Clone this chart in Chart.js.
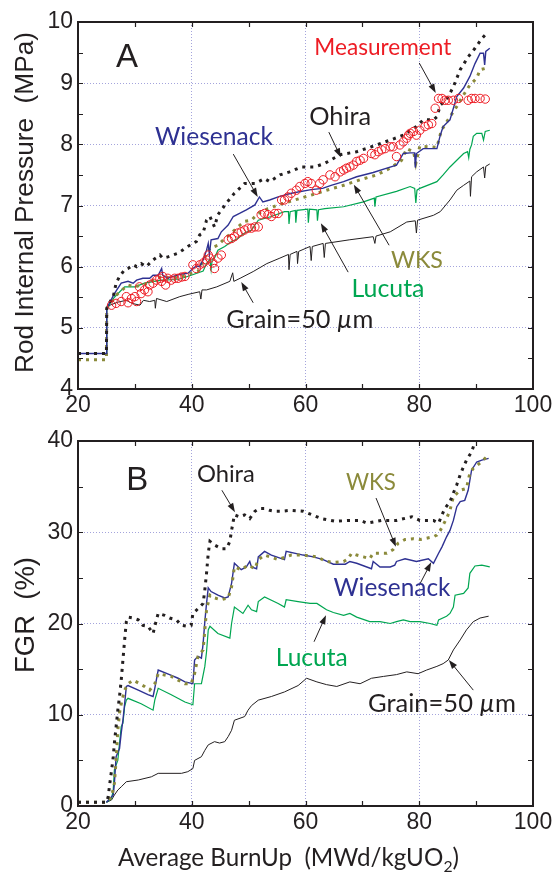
<!DOCTYPE html>
<html>
<head>
<meta charset="utf-8">
<script src="https://cdn.jsdelivr.net/npm/chart.js@4.4.1/dist/chart.umd.min.js"></script>
<style>
  html, body { margin: 0; padding: 0; background: #fff; }
  #wrap { position: relative; width: 556px; height: 875px; overflow: hidden; }
  #chartA { position: absolute; left: 0; top: 0; width: 556px; height: 420px; }
  #chartB { position: absolute; left: 0; top: 420px; width: 556px; height: 455px; }
</style>
</head>
<body>
<div id="wrap">
  <canvas id="chartA" width="556" height="420"></canvas>
  <canvas id="chartB" width="556" height="455"></canvas>
</div>
<script>
// ---- data read off the figure : [burnup, value] ----
// panel A : rod internal pressure (MPa)
const aMeasurement = [[25.9,5.37],[26.7,5.40],[27.6,5.43],[28.5,5.51],[28.8,5.41],[29.4,5.48],[30.0,5.51],[30.3,5.43],[30.8,5.67],[31.1,5.56],[31.7,5.62],[32.3,5.59],[32.6,5.70],[33.2,5.73],[33.8,5.78],[34.4,5.81],[34.7,5.76],[34.9,5.84],[35.4,5.70],[35.8,5.81],[36.4,5.78],[37.0,5.81],[37.6,5.81],[38.2,5.83],[38.8,5.84],[40.2,6.03],[40.8,5.97],[41.4,6.03],[42.0,6.06],[42.6,6.11],[42.9,6.19],[43.2,6.14],[43.7,6.06],[44.0,5.97],[44.6,6.14],[45.2,6.19],[46.4,6.44],[47.0,6.46],[47.5,6.49],[48.1,6.55],[48.7,6.57],[49.3,6.60],[49.9,6.63],[50.5,6.63],[51.1,6.65],[51.7,6.65],[52.2,6.85],[52.8,6.87],[53.4,6.85],[54.0,6.82],[54.6,6.87],[55.2,6.87],[55.8,7.09],[56.3,7.09],[56.9,7.14],[57.5,7.20],[58.4,7.25],[59.0,7.31],[59.9,7.36],[60.4,7.39],[61.0,7.36],[61.9,7.25],[62.5,7.36],[63.1,7.42],[64.3,7.50],[65.2,7.47],[66.1,7.55],[66.7,7.58],[67.2,7.61],[67.8,7.63],[68.4,7.66],[69.0,7.72],[69.6,7.74],[70.2,7.77],[71.6,7.85],[72.2,7.83],[72.8,7.88],[73.4,7.91],[74.0,7.93],[74.9,7.96],[75.4,7.96],[76.0,7.80],[76.6,7.99],[77.2,8.04],[77.8,8.10],[78.1,8.15],[78.4,8.18],[79.0,8.21],[79.5,8.15],[80.1,8.23],[81.0,8.29],[81.6,8.32],[82.2,8.34],[82.8,8.59],[83.4,8.75],[84.0,8.75],[84.5,8.72],[85.1,8.72],[86.0,8.72],[86.9,8.75],[88.6,8.72],[89.2,8.75],[89.8,8.75],[90.7,8.75],[91.6,8.74]];
const aWiesenack = [[20,4.58],[25.0,4.58],[25.05,5.32],[26.4,5.56],[27.6,5.73],[28.8,5.76],[29.7,5.73],[30.3,5.78],[31.4,5.81],[32.6,5.81],[33.2,5.86],[34.1,5.86],[34.7,5.97],[34.9,5.86],[35.8,5.81],[37.0,5.85],[38.2,5.88],[39.3,5.89],[40.2,5.97],[40.8,6.01],[41.4,6.0],[42.0,6.11],[42.6,6.27],[42.9,6.38],[43.1,6.2],[43.4,6.44],[44.6,6.46],[45.2,6.57],[46.4,6.68],[47.3,6.82],[48.4,6.87],[49.6,6.93],[51.1,7.01],[51.9,7.14],[52.5,7.06],[53.7,7.09],[55.2,7.14],[57.5,7.20],[61.0,7.26],[63.0,7.28],[64.5,7.33],[66.7,7.39],[69.0,7.47],[71.9,7.54],[74.3,7.61],[76.0,7.66],[77.2,7.85],[78.4,7.86],[79.2,7.86],[79.3,7.62],[79.5,7.85],[80.7,7.93],[83.1,7.93],[83.7,8.15],[84.2,8.29],[85.4,8.40],[86.6,8.78],[87.8,8.92],[88.9,9.11],[89.8,9.32],[90.7,9.49],[91.3,9.49],[91.5,9.30],[91.7,9.52],[92.4,9.57]];
const aOhira = [[20,4.58],[25.0,4.58],[25.05,5.32],[25.6,5.42],[26.2,5.51],[26.7,5.73],[27.3,5.84],[28.2,5.95],[28.8,5.97],[29.7,6.03],[30.3,6.0],[31.1,6.05],[32.0,6.0],[33.2,6.11],[34.4,6.19],[34.9,6.14],[35.8,6.16],[37.6,6.22],[39.3,6.33],[40.8,6.41],[41.4,6.52],[42.0,6.55],[42.6,6.76],[43.2,6.82],[44.0,6.65],[44.6,6.85],[46.1,7.04],[47.5,7.20],[49.3,7.36],[51.1,7.36],[52.8,7.44],[53.7,7.39],[55.5,7.50],[57.2,7.55],[59.3,7.63],[61.6,7.63],[63.4,7.69],[66.1,7.83],[69.0,7.88],[71.6,7.96],[74.9,8.07],[77.2,8.15],[79.5,8.29],[80.7,8.40],[82.5,8.40],[83.1,8.45],[83.7,8.64],[84.8,8.73],[86.0,8.94],[87.2,9.22],[88.6,9.43],[89.8,9.57],[91.0,9.73],[91.6,9.79],[92.0,9.82]];
const aWKS = [[20,4.48],[25.0,4.48],[25.05,5.32],[27.0,5.56],[28.8,5.70],[30.0,5.67],[32.3,5.73],[34.7,5.84],[36.4,5.81],[38.2,5.84],[39.9,5.89],[41.1,5.92],[42.3,6.16],[43.2,6.30],[44.6,6.35],[45.8,6.46],[47.0,6.55],[48.1,6.65],[49.3,6.74],[50.5,6.76],[51.7,6.87],[53.4,6.95],[55.2,7.01],[58.1,7.09],[61.0,7.17],[63.7,7.25],[66.7,7.33],[69.6,7.42],[72.5,7.50],[74.9,7.61],[76.9,7.74],[77.8,7.93],[79.0,7.88],[79.4,7.69],[80.1,7.97],[83.1,7.95],[83.9,8.23],[85.4,8.45],[86.6,8.62],[87.8,8.81],[88.9,8.97],[90.1,9.08],[90.7,9.22],[91.6,9.24],[92.0,9.28]];
const aLucuta = [[20,4.58],[25.0,4.58],[25.05,5.32],[26.4,5.50],[28.2,5.67],[30.0,5.67],[31.7,5.73],[34.7,5.78],[37.6,5.79],[39.9,5.86],[42.0,5.93],[42.6,6.05],[43.2,6.12],[43.4,5.95],[43.6,6.12],[44.0,6.14],[44.6,6.27],[45.8,6.33],[47.0,6.41],[48.1,6.46],[49.3,6.55],[50.5,6.60],[51.7,6.76],[54.0,6.82],[56.3,6.90],[57.0,6.90],[57.1,6.70],[57.3,6.90],[58.2,6.92],[58.3,6.72],[58.5,6.92],[60.4,6.94],[60.5,6.72],[60.7,6.94],[62.0,6.93],[62.1,6.75],[62.3,6.93],[63.4,6.95],[66.7,6.98],[70.2,7.06],[72.1,7.12],[72.2,6.98],[72.4,7.14],[76.0,7.23],[78.4,7.31],[79.2,7.28],[79.4,7.04],[79.6,7.25],[80.1,7.28],[83.1,7.39],[84.2,7.50],[85.4,7.63],[86.6,7.74],[87.8,7.85],[88.5,7.88],[88.7,7.78],[88.9,7.92],[89.2,7.99],[89.5,8.13],[90.1,8.18],[91.0,8.18],[91.3,8.07],[91.6,8.21],[92.4,8.23]];
const aGrain = [[20,4.58],[25.0,4.58],[25.05,5.32],[25.6,5.37],[27.0,5.42],[28.5,5.45],[29.5,5.40],[30.9,5.37],[31.5,5.45],[32.6,5.43],[33.5,5.45],[33.6,5.32],[33.8,5.48],[35.6,5.43],[37.9,5.51],[39.5,5.55],[41.4,5.59],[41.6,5.47],[41.8,5.62],[42.6,5.62],[44.4,5.67],[46.7,5.76],[47.2,5.90],[47.4,5.76],[48.5,5.81],[50.8,5.92],[53.2,6.05],[55.5,6.14],[57.0,6.20],[57.1,5.95],[57.3,6.20],[58.5,6.25],[58.6,6.05],[58.8,6.25],[60.8,6.33],[61.0,6.10],[61.2,6.33],[63.1,6.38],[63.3,6.15],[63.5,6.38],[67.8,6.44],[71.9,6.49],[72.2,6.38],[72.4,6.50],[74.9,6.57],[77.8,6.73],[79.3,6.75],[79.5,6.55],[79.7,6.76],[82.5,6.84],[83.7,6.90],[85.4,7.09],[86.6,7.25],[87.8,7.33],[88.9,7.40],[89.0,7.15],[89.2,7.47],[90.1,7.55],[91.3,7.63],[91.5,7.45],[91.7,7.64],[92.4,7.68]];

// panel B : fission gas release (%)
const bOhira = [[20,0.4],[25.0,0.4],[25.3,1.0],[25.6,2.5],[25.9,3.9],[26.2,5.4],[26.4,6.9],[26.7,8.7],[27.0,10.5],[27.3,12.0],[27.6,13.8],[27.9,16.0],[28.2,18.2],[28.5,20.2],[28.8,20.7],[29.7,20.6],[30.6,20.4],[31.4,19.8],[32.3,19.7],[33.2,18.9],[33.5,19.7],[34.1,21.1],[35.2,20.9],[36.1,20.6],[37.3,20.4],[38.2,19.8],[39.1,19.7],[39.9,19.8],[40.2,21.1],[41.4,21.8],[42.0,22.2],[42.3,23.7],[42.6,25.5],[42.9,27.7],[43.2,29.0],[44.0,28.6],[45.2,28.2],[46.1,28.2],[46.7,29.0],[47.0,30.2],[47.5,31.9],[48.4,31.7],[49.3,31.9],[50.2,31.5],[51.1,32.3],[51.9,32.6],[52.8,32.6],[53.7,32.4],[54.6,32.3],[55.8,32.3],[57.3,32.4],[59.6,32.3],[62.8,31.5],[65.2,31.2],[67.8,31.3],[69.6,31.3],[70.8,31.0],[73.4,31.3],[76.0,31.3],[78.7,31.7],[80.1,31.3],[82.5,31.3],[83.4,31.0],[84.0,31.9],[84.5,32.6],[85.4,33.35],[86.0,34.3],[86.6,35.2],[87.2,36.3],[87.8,37.2],[88.3,37.9],[89.2,38.8],[89.8,39.9],[90.3,40.5]];
const bWiesenack = [[25.0,0.4],[26.2,1.2],[26.4,2.5],[26.7,5.4],[27.3,6.3],[27.6,8.0],[27.9,9.4],[28.2,11.2],[28.5,13.1],[28.8,13.2],[30.6,12.7],[32.3,12.2],[33.2,12.0],[33.5,12.9],[34.1,14.9],[36.1,14.4],[37.6,14.0],[38.8,13.6],[40.2,13.4],[40.5,16.0],[41.1,16.4],[41.7,16.2],[42.0,17.8],[42.3,20.2],[42.6,22.2],[42.9,23.9],[43.4,23.5],[44.6,23.1],[45.8,22.8],[46.4,22.9],[47.0,24.4],[47.5,26.6],[48.7,25.9],[49.6,26.2],[50.2,26.8],[50.5,26.2],[51.4,26.0],[51.7,27.3],[52.8,27.9],[54.0,27.5],[56.3,27.0],[56.6,27.9],[59.6,27.5],[61.4,27.3],[63.1,27.0],[64.9,26.5],[67.0,26.5],[67.8,26.8],[69.0,26.6],[71.6,26.0],[71.9,26.8],[73.1,26.2],[74.9,26.2],[75.7,26.4],[76.0,26.8],[77.5,27.1],[79.5,26.8],[81.6,27.1],[82.5,26.6],[83.4,27.7],[84.0,28.4],[84.8,29.5],[85.4,30.2],[86.0,31.3],[86.6,32.8],[87.2,33.35],[88.0,33.5],[88.6,34.6],[89.2,36.8],[90.1,37.7],[91.0,37.9],[92.2,38.1]];
const bWKS = [[20,0.4],[25.0,0.4],[25.9,1.0],[26.4,2.5],[26.7,5.0],[27.0,8.3],[27.3,10.2],[27.6,11.2],[28.2,12.7],[28.8,13.4],[29.7,13.8],[31.7,13.1],[32.6,12.7],[33.5,13.4],[34.1,14.5],[36.4,14.2],[38.8,13.4],[39.9,13.4],[40.5,14.5],[41.1,16.4],[42.0,17.1],[42.3,19.3],[42.6,21.5],[43.2,23.1],[44.0,22.8],[45.2,22.6],[46.4,22.8],[47.0,24.0],[47.5,26.2],[48.7,25.9],[49.9,26.4],[51.1,26.0],[51.7,27.0],[52.8,27.5],[55.2,27.0],[57.5,27.5],[59.6,27.5],[62.0,27.3],[63.7,26.8],[64.9,26.7],[66.7,26.8],[67.5,27.1],[68.1,27.7],[69.0,27.5],[70.2,27.3],[71.3,27.1],[71.9,27.7],[74.3,27.7],[75.4,28.1],[76.3,28.8],[77.5,29.2],[79.0,29.3],[80.1,29.2],[82.5,29.5],[83.1,29.7],[83.7,30.2],[84.2,30.8],[84.8,31.5],[85.4,32.4],[86.0,33.9],[87.2,34.6],[88.3,34.8],[88.9,36.5],[89.5,37.0],[90.7,37.6],[91.9,38.3]];
const bLucuta = [[25.0,0.4],[25.9,0.8],[26.2,1.8],[26.4,4.0],[27.0,5.0],[27.3,6.9],[27.6,8.7],[27.9,9.1],[28.2,10.9],[28.5,11.6],[28.8,11.8],[31.1,11.2],[33.2,10.5],[33.5,11.6],[34.1,12.9],[36.4,12.2],[38.8,11.4],[40.2,11.1],[40.5,13.4],[41.7,13.4],[42.3,15.3],[42.6,16.9],[42.9,19.3],[43.2,19.7],[44.6,18.9],[46.7,18.4],[47.0,20.0],[47.5,21.8],[49.0,21.1],[49.9,22.0],[50.5,21.5],[51.4,21.3],[51.7,22.4],[52.8,22.9],[55.2,22.2],[56.3,21.8],[56.6,22.6],[58.7,22.4],[60.8,22.2],[62.0,22.2],[63.7,21.5],[64.9,21.2],[66.7,20.9],[67.8,21.1],[69.0,20.7],[71.3,20.2],[73.1,20.2],[74.9,20.0],[76.0,20.2],[77.2,20.4],[78.4,20.2],[80.1,20.2],[81.9,20.0],[83.1,19.8],[83.4,20.4],[84.8,20.8],[85.4,21.1],[86.0,21.8],[86.3,23.1],[87.8,23.3],[88.6,23.9],[88.9,25.5],[89.8,26.3],[91.0,26.4],[92.4,26.2]];
const bGrain = [[25.0,0.4],[25.9,0.66],[26.4,1.2],[27.0,1.75],[27.6,2.1],[28.5,2.66],[30.6,2.85],[32.9,3.2],[34.1,3.58],[38.2,3.58],[39.3,3.76],[40.2,4.1],[40.5,5.0],[41.7,5.4],[42.3,6.1],[42.9,6.7],[44.0,7.05],[44.9,6.9],[45.8,7.05],[46.4,7.6],[47.0,8.3],[47.5,9.4],[49.3,9.8],[49.9,10.5],[50.5,11.0],[51.7,11.6],[54.0,12.0],[56.3,12.5],[58.7,13.2],[60.2,14.0],[62.0,13.6],[63.7,13.3],[65.5,13.1],[67.8,13.6],[69.6,13.4],[71.6,14.0],[73.7,14.2],[76.0,14.4],[77.8,14.7],[79.8,14.5],[81.3,14.9],[83.1,15.3],[84.2,15.6],[85.1,16.0],[86.0,17.1],[87.2,18.2],[88.3,19.3],[89.5,20.2],[90.7,20.6],[92.2,20.8]];

// tick marks on the box (labels come from the scales)
const xMinorTicks = [30, 40, 50, 60, 70, 80, 90];
const aMinorTicks = [4.5, 5, 5.5, 6, 6.5, 7, 7.5, 8, 8.5, 9, 9.5];
const bMinorTicks = [5, 10, 15, 20, 25, 30, 35];

const INK = '#231f20', BLUE = '#2e3192', GREEN = '#00a651', OLIVE = '#8b8a3b', RED = '#ed1c24', GRID = '#a4a4dc';
const FONT_NUM = "'Liberation Sans', Arial, Helvetica, sans-serif";
const FONT_LBL = "Lato, 'Open Sans', sans-serif";

function lineDs(label, data, color, width, dotted) {
  return {
    label, data, borderColor: color, borderWidth: width, pointRadius: 0, tension: 0, fill: false,
    borderDash: dotted ? [3, 5] : [], borderCapStyle: 'butt', borderJoinStyle: 'miter'
  };
}

// text helper: parts [{t, it, sub}], fitted to a width or drawn at a size
function drawRich(ctx, parts, cx, cy, family, color, fit, rot) {
  let w = 0;
  const m = parts.map(p => {
    ctx.font = `${p.it ? 'italic ' : ''}${p.sub ? 65 : 100}px ${family}`;
    const pw = ctx.measureText(p.t).width;
    w += pw;
    return pw;
  });
  const k = fit.w ? fit.w / w : fit.size / 100;
  const tw = w * k;
  ctx.save();
  ctx.translate(cx, cy);
  if (rot) ctx.rotate(rot);
  ctx.fillStyle = color;
  ctx.textAlign = 'left';
  ctx.textBaseline = 'alphabetic';
  let xx = -tw / 2;
  const base = 36 * k;
  parts.forEach((p, i) => {
    ctx.font = `${p.it ? 'italic ' : ''}${(p.sub ? 65 : 100) * k}px ${family}`;
    ctx.fillText(p.t, xx, base + (p.sub ? 25 * k : 0));
    xx += m[i] * k;
  });
  ctx.restore();
}

function arrow(ctx, x1, y1, x2, y2) {
  const ang = Math.atan2(y2 - y1, x2 - x1), L = 9, H = 3.2;
  ctx.beginPath();
  ctx.moveTo(x1, y1);
  ctx.lineTo(x2 - Math.cos(ang) * L * 0.8, y2 - Math.sin(ang) * L * 0.8);
  ctx.stroke();
  ctx.beginPath();
  ctx.moveTo(x2, y2);
  ctx.lineTo(x2 - Math.cos(ang) * L - Math.sin(ang) * H, y2 - Math.sin(ang) * L + Math.cos(ang) * H);
  ctx.lineTo(x2 - Math.cos(ang) * L + Math.sin(ang) * H, y2 - Math.sin(ang) * L - Math.cos(ang) * H);
  ctx.closePath();
  ctx.fill();
}

const decor = {
  id: 'decor',
  afterDatasetsDraw(chart, args, o) {
    const { ctx, chartArea: a, scales: { x, y } } = chart;
    ctx.save();
    // ticks pointing inward on all four sides
    ctx.strokeStyle = INK;
    ctx.lineWidth = 1.2;
    ctx.beginPath();
    xMinorTicks.forEach(v => {
      const p = Math.round(x.getPixelForValue(v)) + 0.5;
      ctx.moveTo(p, a.bottom); ctx.lineTo(p, a.bottom - 5);
      ctx.moveTo(p, a.top); ctx.lineTo(p, a.top + 5);
    });
    o.yTicks.forEach(v => {
      const p = Math.round(y.getPixelForValue(v)) + 0.5;
      ctx.moveTo(a.left, p); ctx.lineTo(a.left + 5, p);
      ctx.moveTo(a.right, p); ctx.lineTo(a.right - 5, p);
    });
    ctx.stroke();
    ctx.lineWidth = 2;
    ctx.strokeRect(a.left, a.top, a.right - a.left, a.bottom - a.top);

    // arrows
    ctx.strokeStyle = INK;
    ctx.fillStyle = INK;
    ctx.lineWidth = 1;
    o.arrows.forEach(r => arrow(ctx, x.getPixelForValue(r[0]), y.getPixelForValue(r[1]), x.getPixelForValue(r[2]), y.getPixelForValue(r[3])));

    // labels inside the plot
    o.labels.forEach(l => {
      drawRich(ctx, l.parts, x.getPixelForValue(l.x), y.getPixelForValue(l.y), l.font || FONT_LBL, l.color, l.fit);
    });

    // axis titles (page positions)
    o.titles.forEach(t => drawRich(ctx, t.parts, t.cx, t.cy, t.font, INK, t.fit, t.rot));
    ctx.restore();
  }
};

function gridColor(min, max) {
  return c => (c.tick && (c.tick.value === min || c.tick.value === max)) ? 'rgba(0,0,0,0)' : GRID;
}

function makeChart(id, cfg) {
  return new Chart(document.getElementById(id), {
    type: 'line',
    data: { datasets: cfg.datasets },
    options: {
      responsive: false,
      animation: false,
      events: [],
      layout: { padding: { top: cfg.padTop, right: 23, left: 0, bottom: 0 } },
      plugins: { legend: { display: false }, tooltip: { enabled: false }, decor: cfg.decor },
      scales: {
        x: {
          type: 'linear', min: 20, max: 100,
          ticks: { stepSize: 20, color: INK, font: { family: FONT_NUM, size: 23 }, padding: 3, maxRotation: 0, autoSkip: false },
          grid: { color: gridColor(20, 100), drawTicks: false, lineWidth: 1 },
          border: { display: false, dash: [1, 2] },
          afterFit: s => { s.height = cfg.xHeight; }
        },
        y: {
          type: 'linear', min: cfg.yMin, max: cfg.yMax,
          ticks: { stepSize: cfg.yStep, color: INK, font: { family: FONT_NUM, size: 23 }, padding: 5, autoSkip: false },
          grid: { color: gridColor(cfg.yMin, cfg.yMax), drawTicks: false, lineWidth: 1 },
          border: { display: false, dash: [1, 2] },
          afterFit: s => { s.width = 78; }
        }
      }
    },
    plugins: [decor]
  });
}

const mu = { t: '\u00b5', it: true };

makeChart('chartA', {
  padTop: 22, xHeight: 31, yMin: 4, yMax: 10, yStep: 1,
  datasets: [
    { label: 'Measurement', data: aMeasurement, showLine: false, pointStyle: 'circle', pointRadius: 4.2, pointBorderWidth: 1, pointBorderColor: RED, pointBackgroundColor: 'rgba(255,255,255,0)', borderColor: RED },
    lineDs('Ohira', aOhira, INK, 3, true),
    lineDs('Wiesenack', aWiesenack, BLUE, 1.4, false),
    lineDs('WKS', aWKS, OLIVE, 3, true),
    lineDs('Lucuta', aLucuta, GREEN, 1.2, false),
    lineDs('Grain=50 um', aGrain, INK, 1, false)
  ],
  decor: {
    yTicks: aMinorTicks,
    arrows: [[47.3, 7.84, 51.6, 7.14], [64.1, 8.20, 66.2, 7.79], [80.0, 9.33, 82.9, 8.84], [74.7, 6.35, 68.5, 7.34], [67.5, 5.91, 62.7, 6.71], [50.8, 5.41, 48.7, 5.75]],
    labels: [
      { parts: [{ t: 'A' }], x: 28.6, y: 9.46, color: INK, font: FONT_NUM, fit: { size: 33 } },
      { parts: [{ t: 'Wiesenack' }], x: 43.9, y: 8.14, color: BLUE, fit: { w: 118 } },
      { parts: [{ t: 'Ohira' }], x: 66.1, y: 8.46, color: INK, fit: { w: 62 } },
      { parts: [{ t: 'Measurement' }], x: 73.6, y: 9.59, color: RED, fit: { w: 137 } },
      { parts: [{ t: 'WKS' }], x: 79.6, y: 6.11, color: OLIVE, fit: { w: 52 } },
      { parts: [{ t: 'Lucuta' }], x: 74.5, y: 5.65, color: GREEN, fit: { w: 73 } },
      { parts: [{ t: 'Grain=50 ' }, mu, { t: 'm' }], x: 59.0, y: 5.14, color: INK, fit: { w: 147 } }
    ],
    titles: [
      { parts: [{ t: 'Rod Internal Pressure  (MPa)' }], cx: 24, cy: 202.5, font: FONT_NUM, fit: { w: 341 }, rot: -Math.PI / 2 }
    ]
  }
});

makeChart('chartB', {
  padTop: 21, xHeight: 69, yMin: 0, yMax: 40, yStep: 10,
  datasets: [
    lineDs('Ohira', bOhira, INK, 3, true),
    lineDs('WKS', bWKS, OLIVE, 3, true),
    lineDs('Wiesenack', bWiesenack, BLUE, 1.4, false),
    lineDs('Lucuta', bLucuta, GREEN, 1.2, false),
    lineDs('Grain=50 um', bGrain, INK, 1, false)
  ],
  decor: {
    yTicks: bMinorTicks,
    arrows: [[45.3, 34.6, 47.6, 32.2], [72.4, 33.75, 75.9, 28.4], [80.0, 24.2, 82.1, 26.7], [61.5, 18.0, 63.6, 20.9], [89.5, 12.7, 85.2, 16.0]],
    labels: [
      { parts: [{ t: 'B' }], x: 30.4, y: 35.9, color: INK, font: FONT_NUM, fit: { size: 33 } },
      { parts: [{ t: 'Ohira' }], x: 46.0, y: 36.4, color: INK, fit: { w: 58 } },
      { parts: [{ t: 'WKS' }], x: 71.5, y: 35.5, color: OLIVE, fit: { w: 50 } },
      { parts: [{ t: 'Wiesenack' }], x: 75.2, y: 24.0, color: BLUE, fit: { w: 117 } },
      { parts: [{ t: 'Lucuta' }], x: 61.1, y: 16.3, color: GREEN, fit: { w: 72 } },
      { parts: [{ t: 'Grain=50 ' }, mu, { t: 'm' }], x: 84.0, y: 11.3, color: INK, fit: { w: 148 } }
    ],
    titles: [
      { parts: [{ t: 'FGR  (%)' }], cx: 24, cy: 195, font: FONT_NUM, fit: { w: 116 }, rot: -Math.PI / 2 },
      { parts: [{ t: 'Average BurnUp  (MWd/kgUO' }, { t: '2', sub: true }, { t: ')' }], cx: 288.5, cy: 437, font: FONT_LBL, fit: { w: 341 } }
    ]
  }
});
</script>
</body>
</html>
